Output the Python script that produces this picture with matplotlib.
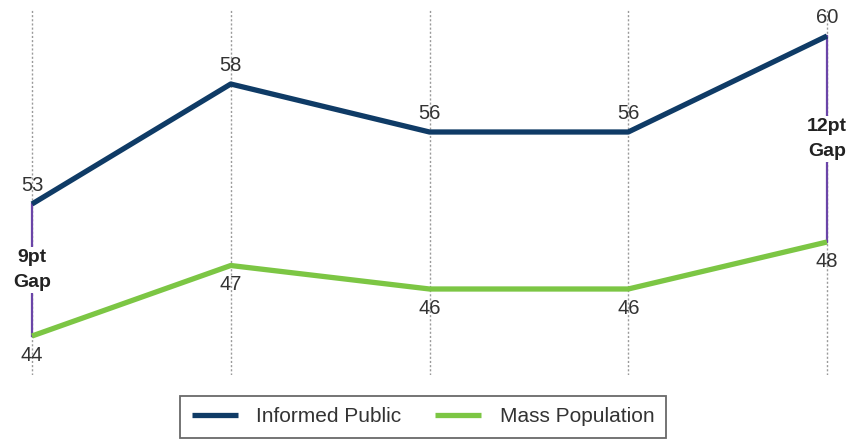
import numpy as np
import matplotlib.pyplot as plt

plt.rcParams['font.family'] = ['Liberation Sans', 'DejaVu Sans']

# five survey waves, values in percent
waves = [0, 1, 2, 3, 4]
informed = [53, 58, 56, 56, 60]
mass = [44, 47, 46, 46, 48]
gap_labels = ['9pt\nGap', '12pt\nGap']
gap_waves = [0, 4]

navy = '#0f3b66'
green = '#7cc644'
purple = '#6b45a8'

fig = plt.figure(figsize=(8.51, 4.46), dpi=100)
W, H = 851, 446
left, right, top, bottom = 22, 837, 10, 375
ax = fig.add_axes([left / W, 1 - bottom / H, (right - left) / W, (bottom - top) / H])
ax2 = ax.twinx()

xpad = 10 / 198.75
ax.set_xlim(-xpad, 4 + xpad)
ax.set_ylim(60 - 339 / 24, 60 + 26 / 24)
ax2.set_ylim(48 - 133 / 23.5, 48 + 232 / 23.5)

for a in (ax, ax2):
    for s in a.spines.values():
        s.set_visible(False)
    a.set_xticks([])
    a.set_yticks([])

for x in waves:
    ax.axvline(x, color='#9a9a9a', lw=1.0, ls=(0, (1.5, 1.5)), zorder=0)

# gap bars join the two series (green lives on the twin axis)
for x, lab in zip(gap_waves, gap_labels):
    y_top = informed[x]
    disp = ax2.transData.transform((x, mass[x]))
    y_bot = ax.transData.inverted().transform(disp)[1]
    ax.plot([x, x], [y_bot, y_top], color=purple, lw=1.6, zorder=2)
    ax.text(x, (y_top + y_bot) / 2, lab, ha='center', va='center', fontsize=14,
            fontweight='bold', color='#222222', linespacing=1.55,
            bbox=dict(facecolor='white', edgecolor='none', pad=2), zorder=3)

l1, = ax.plot(waves, informed, color=navy, lw=3.8, solid_capstyle='butt', zorder=4)
l2, = ax2.plot(waves, mass, color=green, lw=3.8, solid_capstyle='butt', zorder=4)

for x, v in zip(waves, informed):
    ax.annotate(str(v), (x, v), xytext=(0, 13), textcoords='offset points',
                ha='center', va='center', fontsize=14.5, color='#333333')
for x, v in zip(waves, mass):
    ax2.annotate(str(v), (x, v), xytext=(0, -14), textcoords='offset points',
                 ha='center', va='center', fontsize=14.5, color='#333333')

leg = fig.legend([l1, l2], ['Informed Public', 'Mass Population'], loc='center',
                 bbox_to_anchor=(423 / W, 1 - 417 / H), ncol=2, fontsize=15,
                 frameon=True, fancybox=False, handlelength=2.2, columnspacing=1.6,
                 borderpad=0.55, handletextpad=0.9)
leg.get_frame().set_edgecolor('#444444')
leg.get_frame().set_linewidth(1.3)
for t in leg.get_texts():
    t.set_color('#333333')

fig.savefig('out.png', dpi=100)
